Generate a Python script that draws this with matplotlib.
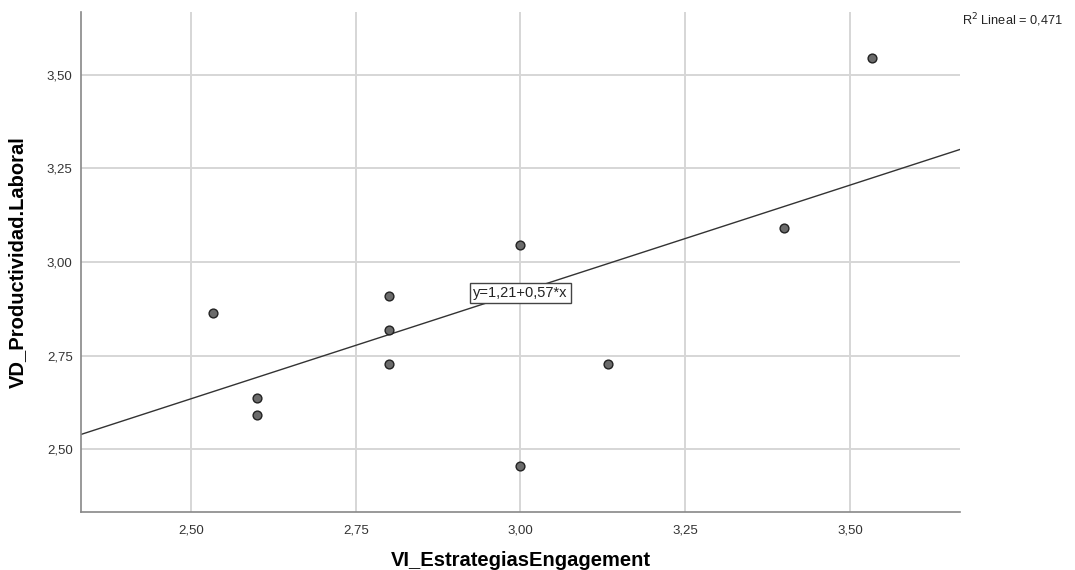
import numpy as np
import matplotlib.pyplot as plt
from matplotlib.ticker import FuncFormatter

plt.rcParams['font.family'] = ['Liberation Sans', 'DejaVu Sans']

# Puntuaciones por participante
vi_engagement = [2.533, 2.600, 2.600, 2.800, 2.800, 2.800, 3.000, 3.000, 3.133, 3.400, 3.533]
vd_productividad = [2.864, 2.636, 2.591, 2.909, 2.818, 2.727, 3.045, 2.455, 2.727, 3.091, 3.545]

# Ajuste lineal reportado
intercept = 1.21
slope = 0.57
r2 = 0.471

x_ticks = [2.50, 2.75, 3.00, 3.25, 3.50]
y_ticks = [2.50, 2.75, 3.00, 3.25, 3.50]
x_lim = (2.333, 3.667)
y_lim = (2.333, 3.667)

fig = plt.figure(figsize=(10.75, 5.7), dpi=100)
ax = fig.add_axes([0.0753, 0.1018, 0.8177, 0.8772])

ax.set_xlim(*x_lim)
ax.set_ylim(*y_lim)
ax.set_xticks(x_ticks)
ax.set_yticks(y_ticks)

comma = FuncFormatter(lambda v, pos: f"{v:.2f}".replace('.', ','))
ax.xaxis.set_major_formatter(comma)
ax.yaxis.set_major_formatter(comma)
ax.tick_params(length=0, labelsize=9.5, colors='#333333')
ax.tick_params(axis='x', pad=9)
ax.tick_params(axis='y', pad=6)

ax.grid(True, color='#d6d6d6', lw=1.4)
ax.set_axisbelow(True)
for side in ('top', 'right'):
    ax.spines[side].set_visible(False)
for side in ('left', 'bottom'):
    ax.spines[side].set_color('#888888')
    ax.spines[side].set_linewidth(1.2)

ax.scatter(vi_engagement, vd_productividad, s=40, color='#6b6b6b',
           edgecolor='#222222', linewidth=1.0, zorder=3)

xs = np.array(x_lim)
ax.plot(xs, intercept + slope * xs, color='#333333', lw=1.0, zorder=2)

eq = f"y={intercept:.2f}+{slope:.2f}*x".replace('.', ',')
ax.text(3.0, 2.917, eq, ha='center', va='center', fontsize=10.5, color='#222222', zorder=4,
        bbox=dict(boxstyle='square,pad=0.2', facecolor='white', edgecolor='#444444', lw=1.0))

fig.text(0.989, 0.965, f"R$^2$ Lineal = {r2:.3f}".replace('.', ','),
         ha='right', va='center', fontsize=9.2, color='#222222')

ax.set_xlabel("VI_EstrategiasEngagement", fontsize=14.5, fontweight='bold')
ax.set_ylabel("VD_Productividad.Laboral", fontsize=14.5, fontweight='bold')
ax.xaxis.set_label_coords(0.5, -0.078)
ax.yaxis.set_label_coords(-0.062, 0.5)

fig.savefig("out.png", dpi=100)
